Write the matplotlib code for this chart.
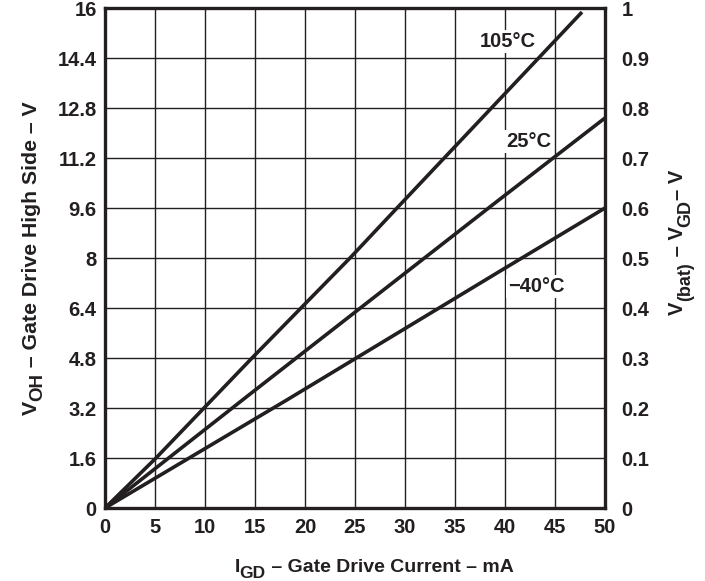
import matplotlib
matplotlib.use("Agg")
import matplotlib.pyplot as plt
import numpy as np
from matplotlib.transforms import IdentityTransform

plt.rcParams["font.family"] = "Liberation Sans"
plt.rcParams["font.weight"] = "bold"

INK = "#231f20"
FS = 14.5

# gate drive current (mA) vs V_OH (V)
I_105 = [0, 5.1, 14.7, 24.5, 29.2, 47.7]
V_105 = [0, 1.6, 4.8, 8.0, 9.6, 15.87]
I_25 = [0, 14.4, 39.4, 50]
V_25 = [0, 3.62, 9.86, 12.48]
I_M40 = [0, 18.2, 39.4, 50]
V_M40 = [0, 3.46, 7.56, 9.6]

CURVES = [
    ("105°C", I_105, V_105, (40.3, 14.94)),
    ("25°C", I_25, V_25, (42.4, 11.72)),
    ("\u221240°C", I_M40, V_M40, (43.15, 7.08)),
]

X_TICKS = np.arange(0, 51, 5)
LEFT_TICKS = [0, 1.6, 3.2, 4.8, 6.4, 8, 9.6, 11.2, 12.8, 14.4, 16]
LEFT_LABELS = ["0", "1.6", "3.2", "4.8", "6.4", "8", "9.6", "11.2", "12.8", "14.4", "16"]
RIGHT_TICKS = [0, 0.1, 0.2, 0.3, 0.4, 0.5, 0.6, 0.7, 0.8, 0.9, 1.0]
RIGHT_LABELS = ["0", "0.1", "0.2", "0.3", "0.4", "0.5", "0.6", "0.7", "0.8", "0.9", "1"]

# (text, font size, drop below baseline in px)
X_LABEL = [("I", 14, 0), ("GD", 12.5, 6), (" \u2013 Gate Drive Current \u2013 mA", 14, 0)]
LEFT_LABEL = [("V", 15.3, 0), ("OH", 13.5, 5), (" \u2013 Gate Drive High Side \u2013 V", 15.3, 0)]
RIGHT_LABEL = [("V", 14.5, 0), ("(bat)", 13, 7), (" \u2013 V", 14.5, 0), ("GD", 13, 7),
               ("\u2013 V", 14.5, 0)]

fig = plt.figure(figsize=(7.05, 5.81), dpi=100)
ax = fig.add_axes([105 / 705, 73 / 581, 500 / 705, 500 / 581])


def run_text(segments, center, rotation):
    # lay out text pieces one after another along the baseline, subscripts dropped
    renderer = fig.canvas.get_renderer()
    widths = []
    texts = []
    for s, size, drop in segments:
        t = fig.text(0, 0, s, fontsize=size, fontweight="bold", color=INK,
                     transform=IdentityTransform(), ha="left", va="baseline",
                     rotation_mode="anchor")
        widths.append(t.get_window_extent(renderer).width)
        texts.append(t)
    d = np.array([np.cos(np.radians(rotation)), np.sin(np.radians(rotation))])
    down = np.array([d[1], -d[0]])
    pos = np.array(center, dtype=float) - d * sum(widths) / 2
    for t, w, (s, size, drop) in zip(texts, widths, segments):
        p = pos + down * drop
        t.set_position((p[0], p[1]))
        t.set_rotation(rotation)
        pos = pos + d * w


for label, xs, ys, pos in CURVES:
    ax.plot(xs, ys, color=INK, linewidth=2.6, solid_capstyle="butt", zorder=3)
    ax.text(pos[0], pos[1], label, ha="center", va="center", fontsize=FS,
            fontweight="bold", color=INK, zorder=4,
            bbox=dict(facecolor="white", edgecolor="none", pad=1.5))

ax.set_xlim(0, 50)
ax.set_ylim(0, 16)
ax.set_xticks(X_TICKS)
ax.set_yticks(LEFT_TICKS)
ax.set_yticklabels(LEFT_LABELS)
ax.grid(True, color=INK, linewidth=1.0)
ax.set_axisbelow(True)
ax.tick_params(axis="x", length=0, labelsize=FS, colors=INK, pad=7)
ax.tick_params(axis="y", length=0, labelsize=FS, colors=INK, pad=6)
for side in ax.spines.values():
    side.set_linewidth(2.4)
    side.set_color(INK)

ax2 = ax.twinx()
ax2.set_ylim(0, 1)
ax2.set_yticks(RIGHT_TICKS)
ax2.set_yticklabels(RIGHT_LABELS)
ax2.tick_params(length=0, labelsize=FS, colors=INK, pad=12)
for side in ax2.spines.values():
    side.set_visible(False)

run_text(X_LABEL, (374, 9), 0)
run_text(LEFT_LABEL, (37, 323), 90)
run_text(RIGHT_LABEL, (683, 339), 90)

fig.savefig("out.png", dpi=100)
